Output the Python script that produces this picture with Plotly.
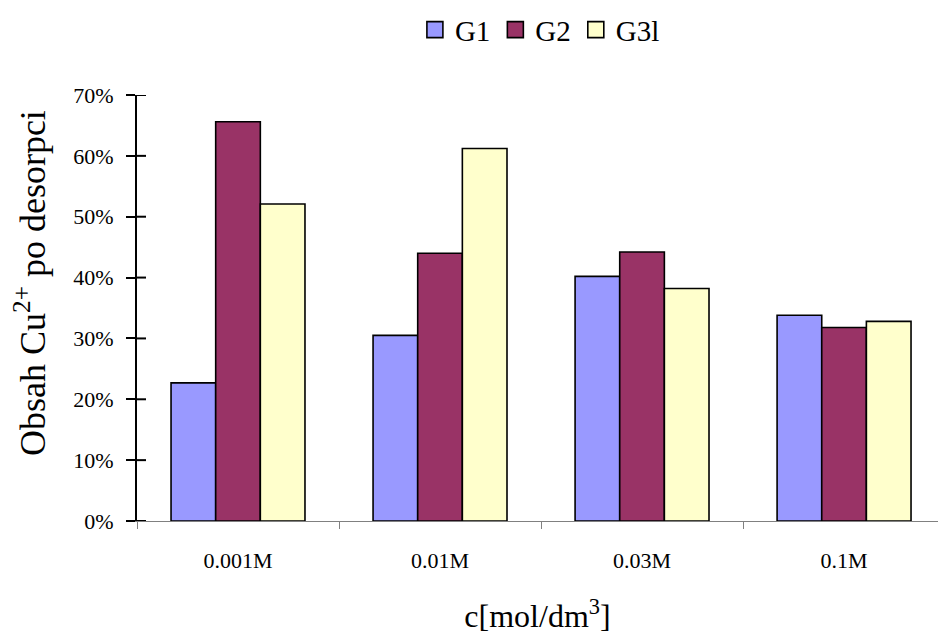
import plotly.graph_objects as go

# Desorption results per concentration and sorbent
categories = ["0.001M", "0.01M", "0.03M", "0.1M"]
series_names = ["G1", "G2", "G3l"]
g1 = [0.227, 0.305, 0.402, 0.338]
g2 = [0.656, 0.440, 0.442, 0.318]
g3l = [0.521, 0.612, 0.382, 0.328]
y_ticks = [0, 0.1, 0.2, 0.3, 0.4, 0.5, 0.6, 0.7]

colors = ["#9999FF", "#993366", "#FFFFCC"]
FONT = "Liberation Serif"

fig = go.Figure()
for name, vals, col in zip(series_names, [g1, g2, g3l], colors):
    fig.add_trace(go.Bar(
        name=name, x=categories, y=vals, showlegend=False, legendgroup=name,
        marker=dict(color=col, line=dict(color="black", width=1.6)),
        hoverinfo="x+y",
    ))

# legend entries with square swatches
for name, col in zip(series_names, colors):
    fig.add_trace(go.Scatter(
        name=name, x=categories, y=[None] * len(categories), mode="markers",
        legendgroup=name, hoverinfo="skip",
        marker=dict(symbol="square", size=17, color=col, line=dict(color="black", width=1.6)),
    ))

# inner half of the crossing tick marks on the value axis
for v in y_ticks:
    fig.add_shape(type="line", xref="paper", yref="y",
                  xsizemode="pixel", xanchor=0, x0=0, x1=9,
                  y0=v, y1=v, line=dict(color="black", width=2), layer="above")

# value axis title
fig.add_annotation(text="Obsah Cu<sup>2+</sup> po desorpci", textangle=-90,
                   xref="paper", yref="paper", x=-0.133, y=0.56,
                   xanchor="center", yanchor="middle", showarrow=False,
                   font=dict(size=36, family=FONT, color="black"))

fig.update_layout(
    width=938, height=639,
    margin=dict(l=137, r=0, t=95, b=118),
    paper_bgcolor="white", plot_bgcolor="white",
    font=dict(family=FONT, color="black", size=20),
    barmode="group", bargap=0.337, bargroupgap=0,
    showlegend=True,
    legend=dict(orientation="h", x=0.503, xanchor="center", y=1.153, yanchor="middle",
                font=dict(size=29, family=FONT), itemwidth=30,
                traceorder="normal"),
    xaxis=dict(
        type="category", range=[-0.5, 3.465],
        showline=True, linecolor="#808080", linewidth=1,
        ticks="outside", ticklen=7, tickcolor="#808080", tickwidth=1,
        tickson="boundaries", showgrid=False, zeroline=False,
        tickfont=dict(size=22, family=FONT),
        ticklabelstandoff=20,
        title=dict(text="c[mol/dm<sup>3</sup>]", font=dict(size=32, family=FONT), standoff=32),
    ),
    yaxis=dict(
        range=[0, 0.7], tickvals=y_ticks, tickformat=".0%",
        showline=True, linecolor="black", linewidth=2,
        ticks="outside", ticklen=9, tickcolor="black", tickwidth=2,
        showgrid=False, zeroline=False,
        tickfont=dict(size=22, family=FONT),
        ticklabelstandoff=8,
    ),
)

fig.write_html("out.html")
